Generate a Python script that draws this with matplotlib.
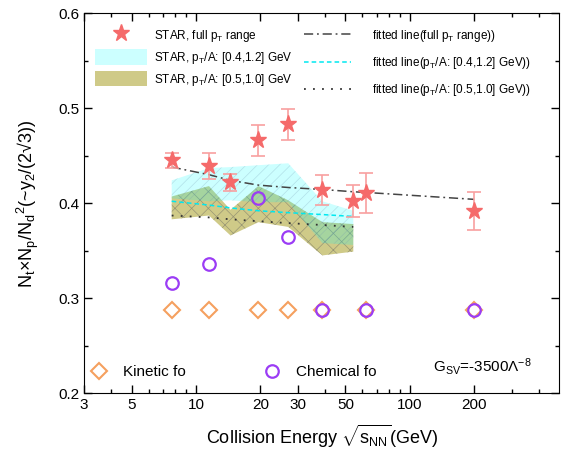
import matplotlib
matplotlib.use("Agg")
import matplotlib.pyplot as plt
from matplotlib.patches import Patch
from matplotlib.lines import Line2D
import numpy as np

plt.rcParams['font.family'] = ['Liberation Sans', 'DejaVu Sans']
plt.rcParams['mathtext.fontset'] = 'custom'
plt.rcParams['mathtext.rm'] = 'Liberation Sans'
plt.rcParams['mathtext.it'] = 'Liberation Sans'
plt.rcParams['hatch.linewidth'] = 0.5

# STAR data, full pT range
e_star = [7.7, 11.5, 14.5, 19.6, 27, 39, 54.4, 62.4, 200]
r_star = [0.445, 0.439, 0.422, 0.466, 0.483, 0.414, 0.402, 0.411, 0.392]
r_err = [0.008, 0.014, 0.009, 0.016, 0.016, 0.016, 0.017, 0.021, 0.020]
fit_full = [0.438, 0.430, 0.424, 0.419, 0.4165, 0.4144, 0.412, 0.4113, 0.404]

# bands, pT/A windows
e_band = [7.7, 11.5, 14.5, 19.6, 27, 39, 54.4]
cyan_hi = [0.424, 0.437, 0.438, 0.440, 0.442, 0.402, 0.392]
cyan_lo = [0.405, 0.402, 0.403, 0.401, 0.401, 0.358, 0.356]
olive_hi = [0.407, 0.418, 0.393, 0.418, 0.403, 0.380, 0.378]
olive_lo = [0.383, 0.387, 0.366, 0.380, 0.375, 0.345, 0.349]
fit_cyan = [0.402, 0.398, 0.395, 0.392, 0.390, 0.388, 0.386]
fit_olive = [0.387, 0.385, 0.383, 0.381, 0.379, 0.377, 0.375]

# model
e_kin = [7.7, 11.5, 19.6, 27, 39, 62.4, 200]
r_kin = [0.288, 0.288, 0.288, 0.288, 0.288, 0.288, 0.288]
e_chem = [7.7, 11.5, 19.6, 27, 39, 62.4, 200]
r_chem = [0.3155, 0.336, 0.405, 0.3645, 0.288, 0.288, 0.288]

fig = plt.figure(figsize=(5.61, 4.54), dpi=100)
ax = fig.add_axes([0.150, 0.134, 0.847, 0.837])

ax.fill_between(e_band, olive_lo, olive_hi, facecolor='#cfca88', edgecolor=(0.45, 0.45, 0.4, 0.6),
                hatch='xx', linewidth=0, zorder=1)
ax.fill_between(e_band, cyan_lo, cyan_hi, facecolor=(0, 1, 1, 0.2), edgecolor=(0.45, 0.6, 0.7, 0.3),
                hatch='///', linewidth=0, zorder=2)

ax.plot(e_star, fit_full, color='#444444', lw=1.1, dashes=(6, 2.5, 1.2, 2.5), zorder=3)
ax.plot(e_band, fit_cyan, color='#00e8f0', lw=1.1, dashes=(3, 2), zorder=3)
ax.plot(e_band, fit_olive, color='#333333', lw=1.3, dashes=(1, 4), zorder=3)

ax.errorbar(e_star, r_star, yerr=r_err, fmt='none', ecolor='#f8a0a0', elinewidth=1.2,
            capsize=5, capthick=1.2, zorder=4)
ax.plot(e_star, r_star, ls='none', marker='*', ms=12.5, color='#f56a6a', mec='#f56a6a', zorder=5)

ax.plot(e_kin, r_kin, ls='none', marker='D', ms=8, mfc='none', mec='#f5a05f', mew=1.5, zorder=5)
ax.plot(e_chem, r_chem, ls='none', marker='o', ms=9, mfc='none', mec='#9b3cf5', mew=1.6, zorder=6)

ax.set_xscale('log')
ax.set_xlim(3, 500)
ax.set_ylim(0.2, 0.6)
ax.set_xticks([3, 5, 10, 20, 30, 50, 100, 200])
ax.set_xticklabels(['3', '5', '10', '20', '30', '50', '100', '200'])
ax.set_xticks([4, 6, 7, 8, 9, 40, 60, 70, 80, 90, 300, 400], minor=True)
ax.set_yticks([0.2, 0.3, 0.4, 0.5, 0.6])
ax.set_yticklabels(['0.2', '0.3', '0.4', '0.5', '0.6'])
ax.set_yticks([0.25, 0.35, 0.45, 0.55], minor=True)
ax.tick_params(which='both', direction='in', top=True, right=True, labelsize=11, width=1)
ax.tick_params(which='major', length=6)
ax.tick_params(which='minor', length=3)
ax.tick_params(axis='x', which='minor', labelbottom=False)

ax.set_xlabel(r'Collision Energy $\sqrt{\mathregular{s_{NN}}}$(GeV)', fontsize=13, labelpad=8)
ax.set_ylabel(r'N$_\mathregular{t}$×N$_\mathregular{p}$/N$_\mathregular{d}$$^\mathregular{2}$(~y$_\mathregular{2}$/(2√3))',
              fontsize=13, labelpad=12)

h1 = [Line2D([], [], ls='none', marker='*', ms=12.5, color='#f56a6a'),
      Patch(facecolor=(0, 1, 1, 0.2), edgecolor='none'),
      Patch(facecolor='#cfca88', edgecolor='none')]
l1 = [r'STAR, full p$_\mathregular{T}$ range', r'STAR, p$_\mathregular{T}$/A: [0.4,1.2] GeV',
      r'STAR, p$_\mathregular{T}$/A: [0.5,1.0] GeV']
leg1 = ax.legend(h1, l1, loc='upper left', bbox_to_anchor=(0.0, 0.99), frameon=False,
                 fontsize=8.5, handlelength=4.4, handleheight=1.6, labelspacing=0.45, handletextpad=0.6)
ax.add_artist(leg1)

h2 = [Line2D([], [], color='#444444', lw=1.1, dashes=(6, 2.5, 1.2, 2.5)),
      Line2D([], [], color='#00e8f0', lw=1.1, dashes=(3, 2)),
      Line2D([], [], color='#333333', lw=1.3, dashes=(1, 4))]
l2 = [r'fitted line(full p$_\mathregular{T}$ range))', r'fitted line(p$_\mathregular{T}$/A: [0.4,1.2] GeV))',
      r'fitted line(p$_\mathregular{T}$/A: [0.5,1.0] GeV))']
leg2 = ax.legend(h2, l2, loc='upper left', bbox_to_anchor=(0.44, 0.99), frameon=False,
                 fontsize=8.5, handlelength=4.0, labelspacing=0.95, handletextpad=1.8)
ax.add_artist(leg2)

h3 = [Line2D([], [], ls='none', marker='D', ms=8, mfc='none', mec='#f5a05f', mew=1.5),
      Line2D([], [], ls='none', marker='o', ms=9, mfc='none', mec='#9b3cf5', mew=1.6)]
ax.legend(h3, ['Kinetic fo', 'Chemical fo'], loc='lower left', bbox_to_anchor=(-0.03, 0.0),
          ncol=2, frameon=False, fontsize=11, columnspacing=4.6, handletextpad=0.6)

ax.text(0.735, 0.07, r'G$_\mathregular{SV}$=-3500Λ$^\mathregular{-8}$', transform=ax.transAxes,
        fontsize=11, va='center', ha='left')

fig.savefig('out.png', dpi=100)
